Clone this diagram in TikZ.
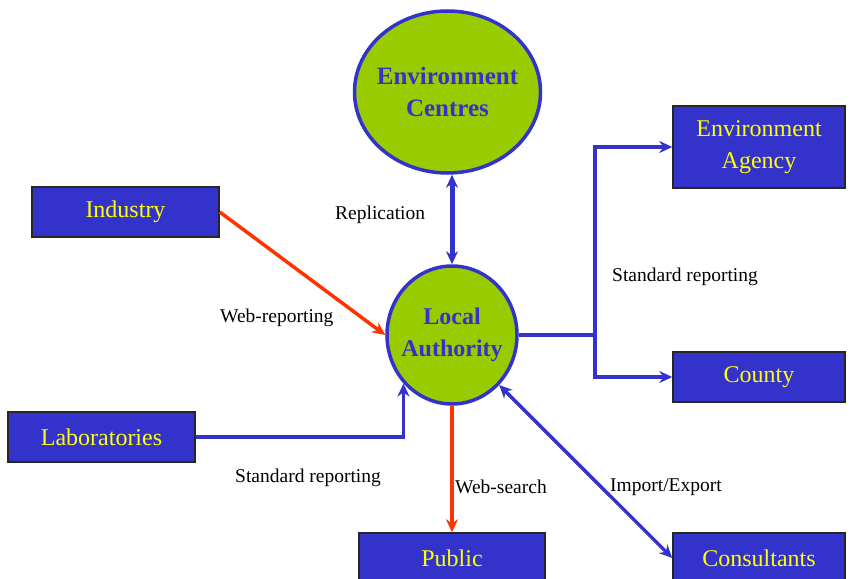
\documentclass[tikz,border=0pt]{standalone}
\usepackage{fontspec}
\setmainfont{Liberation Serif}
\usetikzlibrary{arrows.meta,shapes.geometric}
\definecolor{dblue}{HTML}{3333CC}
\definecolor{lgreen}{HTML}{99CC00}
\definecolor{ytext}{HTML}{FFFF00}
\definecolor{rline}{HTML}{FF3300}
\tikzset{
  bluebox/.style={draw=black!85, line width=1.5pt, fill=dblue, text=ytext, inner sep=0pt,
    font=\fontsize{24}{32}\selectfont, align=center},
  hub/.style={ellipse, draw=dblue, line width=3.5pt, fill=lgreen, text=dblue,
    inner xsep=-10pt, inner ysep=-10pt,
    font=\fontsize{25}{32}\selectfont\bfseries, align=center},
  lbl/.style={font=\fontsize{19.5}{20}\selectfont, text=black, inner sep=0pt, anchor=west},
  blueline/.style={draw=dblue, line width=3.5pt},
  redline/.style={draw=rline, line width=3.5pt},
  tip/.style={-{Stealth[length=13pt,width=12pt]}},
  bitip/.style={{Stealth[length=13pt,width=12pt]}-{Stealth[length=13pt,width=12pt]}},
}
\begin{document}
\begin{tikzpicture}[x=1pt,y=-1pt]
\path[use as bounding box, fill=white] (0,0) rectangle (850,578);
\begin{scope}
\clip (0,0) rectangle (850,578);
% boxes
\node[bluebox, minimum width=187pt, minimum height=50pt] (ind) at (125.5,212) {Industry};
\node[bluebox, minimum width=187pt, minimum height=50pt] (lab) at (101.5,437) {Laboratories};
\node[bluebox, minimum width=172pt, minimum height=82pt] (ea) at (759,147) {Environment\\Agency};
\node[bluebox, minimum width=172pt, minimum height=50pt] (cty) at (759,377) {County};
\node[bluebox, minimum width=186pt, minimum height=50pt] (pub) at (452,558) {Public};
\node[bluebox, minimum width=172pt, minimum height=50pt] (con) at (759,558) {Consultants};
% hubs
\node[hub, minimum width=186pt, minimum height=162pt] (ec) at (447.5,92) {Environment\\Centres};
\node[hub, minimum width=130pt, minimum height=138pt, font=\fontsize{24}{32}\selectfont\bfseries] (la) at (452,335) {Local\\Authority};
% connectors
\draw[blueline, line width=5pt, bitip] (la.north |- ec.south) -- (la.north);
\draw[redline, tip] (ind.east) -- (la.west);
\draw[blueline, tip] (lab.east) -| (la.225);
\draw[redline, tip] (la.south) -- (pub.north);
\draw[blueline, bitip] (la.south east) -- (con.west);
\coordinate (j) at (595,335);
\draw[blueline] (la.east) -- (j);
\draw[blueline, tip] (j) |- (ea.west);
\draw[blueline, tip] (j) |- (cty.west);
% labels
\node[lbl] (l1) at (335,215) {Replication};
\node[lbl] (l2) at (220,318) {Web-reporting};
\node[lbl] (l3) at (612,277) {Standard reporting};
\node[lbl] (l4) at (235,478) {Standard reporting};
\node[lbl] (l5) at (455,487) {Web-search};
\node[lbl] (l6) at (610,487) {Import/Export};
\end{scope}
\end{tikzpicture}
\end{document}
